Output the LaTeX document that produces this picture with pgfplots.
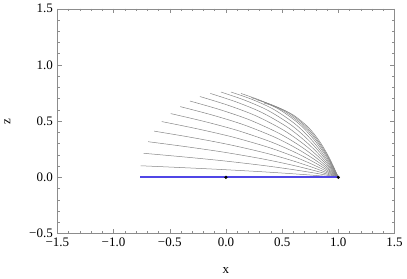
\documentclass[border=0pt]{standalone}
\usepackage{fontspec}
\setmainfont{Liberation Serif}
\usepackage{pgfplots}
\pgfplotsset{compat=1.18}
\definecolor{curvegray}{rgb}{0.52,0.52,0.52}
\definecolor{zblue}{RGB}{80,70,230}
\begin{document}
\fontsize{13}{15}\selectfont
\begin{tikzpicture}
\begin{axis}[
  scale only axis,
  width=336bp, height=224bp,
  xmin=-1.5, xmax=1.5, ymin=-0.5, ymax=1.5,
  xtick={-1.5,-1,-0.5,0,0.5,1,1.5},
  xticklabels={−1.5,−1.0,−0.5,0.0,0.5,1.0,1.5},
  ytick={-0.5,0,0.5,1,1.5},
  yticklabels={−0.5,0.0,0.5,1.0,1.5},
  minor tick num=4,
  tick align=inside,
  major tick length=4.5bp, minor tick length=2.5bp,
  axis line style={black!45},
  every tick/.style={black!45, line width=0.4pt},
  tick label style={font=\fontsize{13}{15}\selectfont, black},
  xlabel={x}, ylabel={z},
  label style={font=\fontsize{13}{15}\selectfont},
  xlabel style={yshift=-12bp},
  ylabel style={yshift=10bp},
  clip=false,
  gc/.style={curvegray, line width=0.5bp, smooth, no marks},
]
\addplot[gc] coordinates {(-0.759,0.103)(-0.407,0.0873)(-0.055,0.0705)(0.296,0.0511)(0.560,0.0342)(0.789,0.0175)(1,0)};
\addplot[gc] coordinates {(-0.732,0.214)(-0.386,0.1827)(-0.039,0.1485)(0.307,0.1086)(0.567,0.0732)(0.792,0.0376)(1,0)};
\addplot[gc] coordinates {(-0.692,0.317)(-0.354,0.2725)(-0.015,0.2232)(0.323,0.1645)(0.577,0.1115)(0.797,0.0575)(1,0)};
\addplot[gc] coordinates {(-0.638,0.411)(-0.310,0.3556)(0.017,0.2935)(0.345,0.2181)(0.590,0.1486)(0.803,0.0771)(1,0)};
\addplot[gc] coordinates {(-0.571,0.496)(-0.257,0.4320)(0.057,0.3593)(0.372,0.2689)(0.607,0.1842)(0.811,0.0959)(1,0)};
\addplot[gc] coordinates {(-0.491,0.567)(-0.193,0.4971)(0.105,0.4164)(0.404,0.3139)(0.627,0.2161)(0.821,0.1131)(1,0)};
\addplot[gc] coordinates {(-0.406,0.629)(-0.125,0.5552)(0.156,0.4683)(0.438,0.3554)(0.648,0.2460)(0.831,0.1291)(1,0)};
\addplot[gc] coordinates {(-0.321,0.679)(-0.057,0.6032)(0.207,0.5124)(0.472,0.3915)(0.670,0.2722)(0.841,0.1435)(1,0)};
\addplot[gc] coordinates {(-0.232,0.719)(0.014,0.6429)(0.261,0.5497)(0.507,0.4229)(0.692,0.2954)(0.852,0.1562)(1,0)};
\addplot[gc] coordinates {(-0.138,0.746)(0.090,0.6713)(0.317,0.5779)(0.545,0.4474)(0.715,0.3138)(0.863,0.1665)(1,0)};
\addplot[gc] coordinates {(-0.045,0.759)(0.164,0.6874)(0.373,0.5957)(0.582,0.4639)(0.739,0.3267)(0.875,0.1740)(1,0)};
\addplot[gc] coordinates {(0.045,0.759)(0.236,0.6918)(0.427,0.6033)(0.618,0.4726)(0.761,0.3342)(0.885,0.1784)(1,0)};
\addplot[gc] coordinates {(0.134,0.746)(0.307,0.6842)(0.480,0.6005)(0.654,0.4731)(0.783,0.3358)(0.896,0.1799)(1,0)};
\addplot[gc] coordinates {(0.223,0.710)(0.378,0.6553)(0.534,0.5787)(0.689,0.4585)(0.806,0.3266)(0.907,0.1754)(1,0)};
\addplot[gc] coordinates {(0.281,0.688)(0.425,0.6389)(0.569,0.5677)(0.712,0.4522)(0.820,0.3232)(0.914,0.1741)(1,0)};
\addplot[gc] coordinates {(0.339,0.661)(0.471,0.6176)(0.603,0.5521)(0.736,0.4421)(0.835,0.3171)(0.921,0.1711)(1,0)};
\addplot[color=zblue, line width=2bp, mark=none] coordinates {(-0.76,0)(1,0)};
\addplot[only marks, mark=*, mark size=1.4bp, black] coordinates {(0,0)(1,0)};
\end{axis}
\end{tikzpicture}
\end{document}
